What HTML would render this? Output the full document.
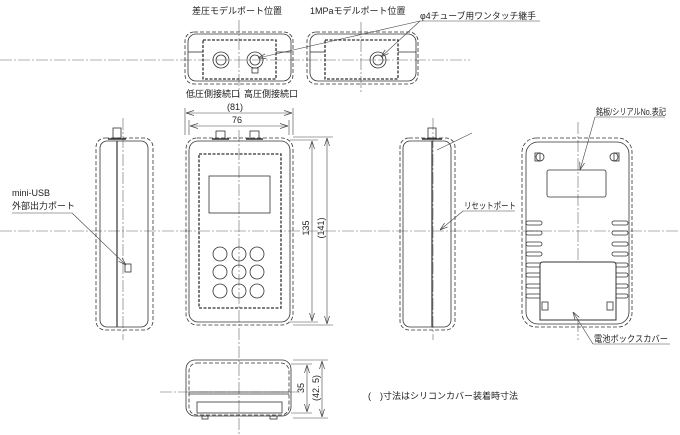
<!DOCTYPE html>
<html><head><meta charset="utf-8"><style>
html,body{margin:0;padding:0;background:#fff;}
svg{display:block;}
text{font-family:"Liberation Sans","Noto Sans CJK JP",sans-serif;fill:#222;font-size:9px;}
</style></head><body>
<svg width="680" height="435" viewBox="0 0 680 435" xmlns="http://www.w3.org/2000/svg">
<defs>
<marker id="a" markerWidth="8" markerHeight="6" refX="8" refY="3" orient="auto" markerUnits="userSpaceOnUse"><path d="M0,0.5 L8,3 L0,5.5" fill="none" stroke="#444" stroke-width="0.7"/></marker>
<marker id="b" markerWidth="8" markerHeight="6" refX="0" refY="3" orient="auto" markerUnits="userSpaceOnUse"><path d="M8,0.5 L0,3 L8,5.5" fill="none" stroke="#444" stroke-width="0.7"/></marker>
</defs>
<g fill="none" stroke="#555" stroke-width="0.6">
<g stroke-dasharray="12,2,2,2" stroke="#666">
<line x1="0" y1="60" x2="470" y2="60"/>
<line x1="239" y1="20" x2="239" y2="98"/>
<line x1="361" y1="22" x2="361" y2="92"/>
<line x1="0" y1="231" x2="680" y2="231"/>
<line x1="239" y1="130" x2="239" y2="435"/>
<line x1="578" y1="122" x2="578" y2="340"/>
<line x1="123" y1="118" x2="123" y2="340"/>
<line x1="433" y1="118" x2="433" y2="340"/>
<line x1="160" y1="392" x2="300" y2="392"/>
</g>
</g>
<g fill="none" stroke="#333" stroke-width="0.8">
<rect x="185" y="32" width="108" height="52" rx="9" stroke-dasharray="4,2"/>
<rect x="188" y="34" width="103" height="47" rx="8"/>
<line x1="188" y1="52" x2="203" y2="52"/><line x1="276" y1="52" x2="291" y2="52"/>
<rect x="203" y="40" width="73" height="39" stroke-width="1.3" stroke-dasharray="3,1.5"/>
<circle cx="221" cy="60" r="8"/><circle cx="221" cy="60" r="5"/>
<circle cx="255" cy="60" r="8"/><circle cx="255" cy="60" r="5"/>
<rect x="252" y="68" width="6" height="5"/>
<rect x="307" y="32" width="111" height="52" rx="9" stroke-dasharray="4,2"/>
<rect x="310" y="34" width="106" height="47" rx="8"/>
<line x1="310" y1="52" x2="325" y2="52"/><line x1="398" y1="52" x2="416" y2="52"/>
<rect x="325" y="40" width="73" height="39" stroke-width="1.3" stroke-dasharray="3,1.5"/>
<circle cx="378" cy="60" r="8"/><circle cx="378" cy="60" r="5"/>
<rect x="186" y="138" width="107" height="187" rx="11" stroke-dasharray="4,2"/>
<rect x="189" y="141" width="101" height="181" rx="9"/>
<rect x="199" y="154" width="82" height="154" stroke-width="1.3" stroke-dasharray="3,1.5"/>
<rect x="209" y="176" width="61" height="37"/>
<g>
<circle cx="220" cy="254" r="7"/><circle cx="239" cy="254" r="7"/><circle cx="257" cy="254" r="7"/>
<circle cx="220" cy="272" r="7"/><circle cx="239" cy="272" r="7"/><circle cx="257" cy="272" r="7"/>
<circle cx="220" cy="291" r="7"/><circle cx="239" cy="291" r="7"/><circle cx="257" cy="291" r="7"/>
</g>
<rect x="216" y="131" width="9" height="8"/><rect x="250" y="131" width="9" height="8"/>
<line x1="212" y1="139" x2="229" y2="139" stroke-width="1.5"/><line x1="246" y1="139" x2="263" y2="139" stroke-width="1.5"/>
<rect x="96" y="138" width="57" height="192" rx="9" stroke-dasharray="4,2"/>
<rect x="100" y="141" width="48" height="186" rx="7"/>
<line x1="117" y1="141" x2="117" y2="327" stroke-width="1.2"/>
<rect x="113" y="128" width="8" height="10"/>
<line x1="108" y1="139" x2="126" y2="139" stroke-width="1.5"/>
<rect x="125" y="264" width="6" height="8"/>
<rect x="400" y="138" width="55" height="192" rx="9" stroke-dasharray="4,2"/>
<rect x="403" y="141" width="48" height="186" rx="7"/>
<line x1="432" y1="141" x2="432" y2="327" stroke-width="1.2"/>
<rect x="428" y="128" width="8" height="10"/>
<line x1="422" y1="139" x2="442" y2="139" stroke-width="1.5"/>
<rect x="522" y="138" width="110" height="189" rx="14" stroke-dasharray="4,2"/>
<rect x="526" y="142" width="103" height="182" rx="12"/>
<rect x="547" y="170" width="59" height="27" rx="2"/>
<circle cx="540" cy="157" r="4"/><circle cx="614" cy="157" r="4"/>
<rect x="535" y="153" width="5" height="8"/><rect x="614" y="153" width="5" height="8"/>
<g>
<rect x="526" y="221" width="16" height="4" rx="2"/><rect x="526" y="231" width="16" height="4" rx="2"/>
<rect x="526" y="242" width="16" height="4" rx="2"/><rect x="526" y="252" width="16" height="4" rx="2"/>
<rect x="526" y="263" width="16" height="4" rx="2"/><rect x="526" y="273" width="16" height="4" rx="2"/>
<rect x="526" y="284" width="16" height="4" rx="2"/><rect x="526" y="294" width="16" height="4" rx="2"/>
<rect x="612" y="221" width="16" height="4" rx="2"/><rect x="612" y="231" width="16" height="4" rx="2"/>
<rect x="612" y="242" width="16" height="4" rx="2"/><rect x="612" y="252" width="16" height="4" rx="2"/>
<rect x="612" y="263" width="16" height="4" rx="2"/><rect x="612" y="273" width="16" height="4" rx="2"/>
<rect x="612" y="284" width="16" height="4" rx="2"/><rect x="612" y="294" width="16" height="4" rx="2"/>
</g>
<path d="M540,320 L540,265 Q540,262 543,262 L613,262 Q616,262 616,265 L616,320 Z" fill="#fff" stroke-width="1"/>
<rect x="542" y="302" width="6" height="8"/><rect x="607" y="302" width="6" height="8"/>
<rect x="186" y="360" width="105" height="56" rx="9"/>
<rect x="189" y="363" width="100" height="52" rx="8" stroke-dasharray="4,2"/>
<line x1="189" y1="392" x2="289" y2="392"/><line x1="189" y1="394" x2="289" y2="394"/>
<rect x="197" y="402" width="85" height="11"/>
<rect x="202" y="416" width="6" height="3"/><rect x="270" y="416" width="7" height="3"/>
</g>
<g stroke="#444" stroke-width="0.6" fill="none">
<line x1="185" y1="108" x2="185" y2="135"/><line x1="293" y1="108" x2="293" y2="135"/>
<line x1="189" y1="120" x2="189" y2="135"/><line x1="289" y1="120" x2="289" y2="135"/>
<line x1="186" y1="113" x2="292" y2="113" marker-start="url(#b)" marker-end="url(#a)"/>
<line x1="190" y1="126" x2="288" y2="126" marker-start="url(#b)" marker-end="url(#a)"/>
<line x1="290" y1="140" x2="318" y2="140"/><line x1="290" y1="322" x2="318" y2="322"/>
<line x1="293" y1="137" x2="333" y2="137"/><line x1="293" y1="325" x2="333" y2="325"/>
<line x1="312" y1="141" x2="312" y2="321" marker-start="url(#b)" marker-end="url(#a)"/>
<line x1="327" y1="138" x2="327" y2="324" marker-start="url(#b)" marker-end="url(#a)"/>
<line x1="291" y1="364" x2="312" y2="364"/><line x1="291" y1="413" x2="312" y2="413"/>
<line x1="293" y1="360" x2="328" y2="360"/><line x1="293" y1="418" x2="328" y2="418"/>
<line x1="307" y1="365" x2="307" y2="412" marker-start="url(#b)" marker-end="url(#a)"/>
<line x1="322" y1="361" x2="322" y2="417" marker-start="url(#b)" marker-end="url(#a)"/>
<line x1="420" y1="21" x2="540" y2="21"/>
<line x1="420" y1="21" x2="258" y2="58" marker-end="url(#a)"/>
<line x1="420" y1="21" x2="381" y2="57" marker-end="url(#a)"/>
<line x1="12" y1="213" x2="72" y2="213"/>
<line x1="72" y1="213" x2="126" y2="265" marker-end="url(#a)"/>
<line x1="463" y1="211" x2="515" y2="211"/>
<line x1="463" y1="211" x2="440" y2="230" marker-end="url(#a)"/>
<line x1="472" y1="133" x2="437" y2="150"/>
<line x1="595" y1="117" x2="665" y2="117"/>
<line x1="595" y1="117" x2="580" y2="170" marker-end="url(#a)"/>
<line x1="593" y1="344" x2="670" y2="344"/>
<line x1="593" y1="344" x2="573" y2="312" marker-end="url(#a)"/>
</g>
<text x="192" y="14" font-size="10">差圧モデルポート位置</text>
<text x="310" y="14" font-size="10">1MPaモデルポート位置</text>
<text x="420" y="19" textLength="116" lengthAdjust="spacingAndGlyphs">φ4チューブ用ワンタッチ継手</text>
<text x="186" y="97" font-size="8.5">低圧側接続口</text>
<text x="244" y="97" font-size="8.5">高圧側接続口</text>
<text x="227" y="110" font-size="10">(81)</text>
<text x="232" y="123" font-size="10">76</text>
<text x="12" y="196">mini-USB</text>
<text x="12" y="209">外部出力ポート</text>
<text x="464" y="209" textLength="52" lengthAdjust="spacingAndGlyphs">リセットポート</text>
<text x="596" y="115" textLength="70" lengthAdjust="spacingAndGlyphs">銘板/シリアルNo.表記</text>
<text x="594" y="342" textLength="74" lengthAdjust="spacingAndGlyphs">電池ボックスカバー</text>
<text x="368" y="399">(　)寸法はシリコンカバー装着時寸法</text>
<text transform="translate(309,228) rotate(-90)" font-size="10" text-anchor="middle">135</text>
<text transform="translate(324,228) rotate(-90)" font-size="10" text-anchor="middle">(141)</text>
<text transform="translate(304,388) rotate(-90)" font-size="10" text-anchor="middle">35</text>
<text transform="translate(319,388) rotate(-90)" font-size="10" text-anchor="middle">(42. 5)</text>
</svg>
</body></html>
